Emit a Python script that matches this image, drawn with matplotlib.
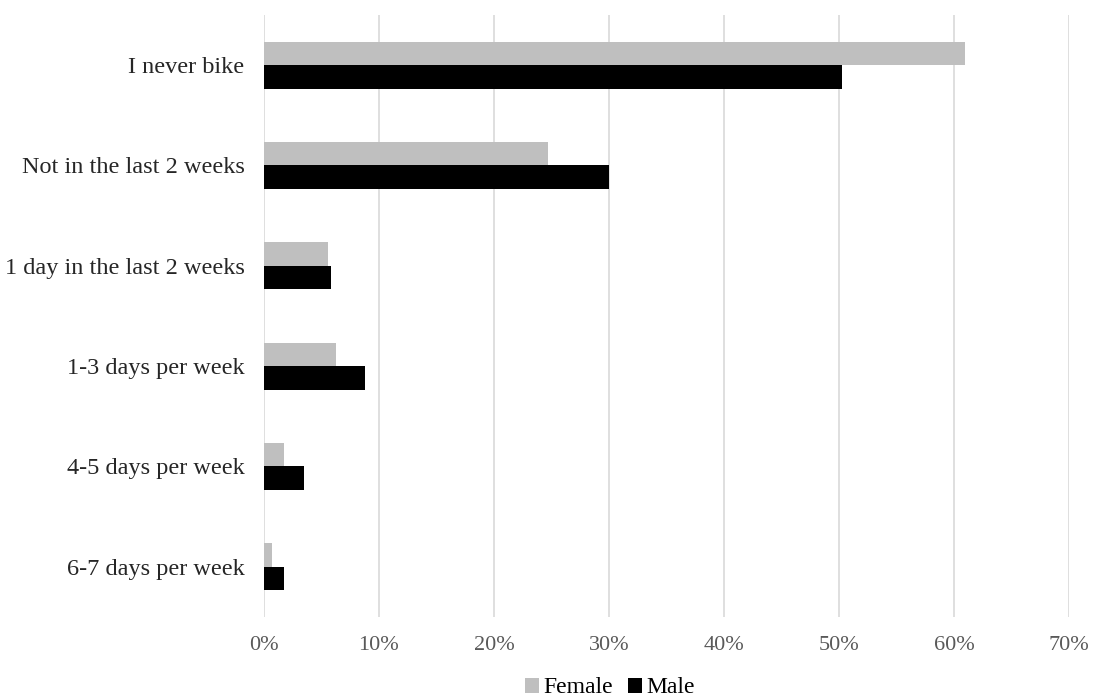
import matplotlib.pyplot as plt
import numpy as np

# survey answers, top to bottom as in the chart
categories = ['I never bike', 'Not in the last 2 weeks', '1 day in the last 2 weeks',
              '1-3 days per week', '4-5 days per week', '6-7 days per week']
female = [61.0, 24.7, 5.6, 6.3, 1.7, 0.7]
male = [50.3, 30.0, 5.8, 8.8, 3.5, 1.7]
xticks = [0, 10, 20, 30, 40, 50, 60, 70]

plt.rcParams['font.family'] = ['Liberation Serif', 'DejaVu Serif']

fig = plt.figure(figsize=(10.99, 7), dpi=100)
ax = fig.add_axes([0.2402, 0.1186, 0.7325, 0.86])

y = np.arange(len(categories))
h = 0.235
ax.barh(y - h / 2, female, height=h, color='#bfbfbf', label='Female', zorder=3)
ax.barh(y + h / 2, male, height=h, color='#000000', label='Male', zorder=3)

ax.set_ylim(len(categories) - 0.5, -0.5)
ax.set_xlim(0, 70)
ax.set_xticks(xticks)
ax.set_xticklabels([f'{t}%' for t in xticks], color='#595959', fontsize=16)
ax.set_yticks(y)
ax.set_yticklabels(categories, fontsize=17.5, color='#262626')
ax.tick_params(length=0, axis='both')
ax.tick_params(axis='x', pad=14)
ax.tick_params(axis='y', pad=14)
ax.grid(axis='x', color='#d9d9d9', linewidth=1.2, zorder=0)
for s in ax.spines.values():
    s.set_visible(False)

fig.legend(loc='lower center', bbox_to_anchor=(0.555, -0.028), ncol=2, frameon=False,
           fontsize=17, handlelength=0.6, handleheight=0.6, handletextpad=0.2,
           columnspacing=0.6)

fig.savefig('out.png', dpi=100)
